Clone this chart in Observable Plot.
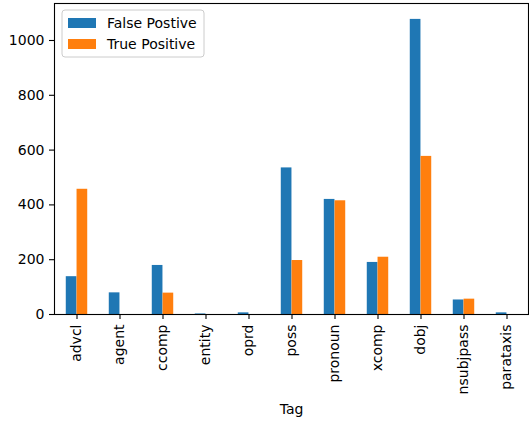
<!DOCTYPE html>
<html>
<head>
<meta charset="utf-8">
<script src="https://cdn.jsdelivr.net/npm/d3@7"></script>
<script src="https://cdn.jsdelivr.net/npm/@observablehq/plot@0.6"></script>
<style>
  html, body { margin: 0; padding: 0; background: #fff; }
  #chart { position: relative; width: 529px; height: 423px; }
</style>
</head>
<body>
<div id="chart"></div>
<script>
const tags = ["advcl", "agent", "ccomp", "entity", "oprd", "poss", "pronoun", "xcomp", "dobj", "nsubjpass", "parataxis"];
const falsePositive = [138, 79, 179, 2, 6, 535, 420, 190, 1077, 53, 6];
const truePositive = [457, 0, 78, 0, 0, 197, 415, 209, 577, 56, 0];
const seriesNames = ["False Postive", "True Positive"];
const colors = ["#1f77b4", "#ff7f0e"];
const yTicks = [0, 200, 400, 600, 800, 1000];

const W = 529, H = 423;
const mL = 54, mR = 1, mT = 3, mB = 109;
const bw = (W - mL - mR) / tags.length;

const fpData = tags.map((t, i) => ({tag: t, value: falsePositive[i]}));
const tpData = tags.map((t, i) => ({tag: t, value: truePositive[i]}));

const fs = 14;
const plot = Plot.plot({
  width: W, height: H,
  marginLeft: mL, marginRight: mR, marginTop: mT, marginBottom: mB,
  style: {fontFamily: "DejaVu Sans", fontSize: fs + "px", color: "#000", background: "#fff"},
  x: {domain: tags, padding: 0, label: null},
  y: {domain: [0, 1135], label: null},
  marks: [
    Plot.barY(fpData, {x: "tag", y: "value", fill: colors[0], insetLeft: bw * 0.25, insetRight: bw * 0.5}),
    Plot.barY(tpData, {x: "tag", y: "value", fill: colors[1], insetLeft: bw * 0.5, insetRight: bw * 0.25}),
    Plot.axisY({ticks: yTicks, tickSize: 5, tickPadding: 5, tickFormat: d3.format("d"), fontSize: fs, stroke: "#000", strokeWidth: 1.1, label: null}),
    Plot.axisX({tickSize: 5, tickPadding: 5, tickRotate: -90, fontSize: fs, stroke: "#000", strokeWidth: 1.1, label: null}),
    Plot.frame({stroke: "#000", strokeWidth: 1.1}),
    Plot.text(["Tag"], {frameAnchor: "bottom", dy: 99, fontSize: fs, fill: "#000"})
  ]
});
document.getElementById("chart").appendChild(plot);

// legend
const svg = d3.select(plot);
const lg = svg.append("g").attr("text-anchor", "start");
lg.append("rect").attr("x", 62).attr("y", 10).attr("width", 142).attr("height", 47)
  .attr("rx", 3).attr("fill", "#fff").attr("fill-opacity", 0.8).attr("stroke", "#ccc").attr("stroke-width", 1);
seriesNames.forEach((name, i) => {
  const y = 18 + i * 21;
  lg.append("rect").attr("x", 68).attr("y", y).attr("width", 28).attr("height", 10).attr("fill", colors[i]);
  lg.append("text").attr("x", 107).attr("y", y + 5).attr("dy", "0.35em")
    .attr("text-anchor", "start").attr("fill", "#000").text(name);
});
svg.selectAll("text").style("font-family", "'DejaVu Sans'").style("font-size", fs + "px").style("font-variant", "normal");
</script>
</body>
</html>
